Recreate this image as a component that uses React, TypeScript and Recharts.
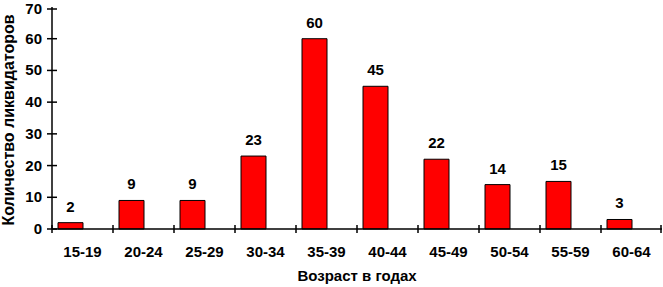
import React from "react";
import { BarChart, Bar, XAxis, YAxis, LabelList, Rectangle } from "recharts";

const ageGroups = ["15-19", "20-24", "25-29", "30-34", "35-39", "40-44", "45-49", "50-54", "55-59", "60-64"];
const liquidators = [2, 9, 9, 23, 60, 45, 22, 14, 15, 3];
const yTicks = [0, 10, 20, 30, 40, 50, 60, 70];

const data = ageGroups.map((age, i) => ({ age, count: liquidators[i] }));

const FONT = "'Liberation Sans', Arial, sans-serif";
const HALF_BAND = 30.5;
// bars sit left of the band centre, like the original Excel chart
const SHIFT = -12;

function XTick(props: any) {
  const { x, y, payload, index } = props;
  return (
    <g>
      <line x1={x - HALF_BAND} x2={x - HALF_BAND} y1={y - 4} y2={y + 4} stroke="#000" strokeWidth={1.5} />
      {index === ageGroups.length - 1 && (
        <line x1={x + HALF_BAND - 1} x2={x + HALF_BAND - 1} y1={y - 4} y2={y + 4} stroke="#000" strokeWidth={1.5} />
      )}
      <text x={x} y={y + 28} textAnchor="middle" fontFamily={FONT} fontWeight="bold" fontSize={15} fill="#000">
        {payload.value}
      </text>
    </g>
  );
}

function YTick(props: any) {
  const { x, y, payload } = props;
  return (
    <g>
      <line x1={x - 5} x2={x + 5} y1={y} y2={y} stroke="#000" strokeWidth={1.5} />
      <text x={x - 10} y={y + 5} textAnchor="end" fontFamily={FONT} fontWeight="bold" fontSize={15} fill="#000">
        {payload.value}
      </text>
    </g>
  );
}

function ShiftedBar(props: any) {
  return <Rectangle {...props} x={props.x + SHIFT} fill="#FF0000" stroke="#000" strokeWidth={1} />;
}

function ValueLabel(props: any) {
  const { x, y, width, value } = props;
  return (
    <text x={x + width / 2 + SHIFT} y={y - 11} textAnchor="middle" fontFamily={FONT} fontWeight="bold" fontSize={15} fill="#000">
      {value}
    </text>
  );
}

export default function App() {
  return (
    <div style={{ position: "absolute", left: 0, top: 0, background: "#fff" }}>
      <BarChart width={663} height={287} data={data} margin={{ top: 7, right: 1, left: 0, bottom: 0 }}>
        <XAxis
          dataKey="age"
          interval={0}
          height={58}
          tickSize={0}
          tickMargin={0}
          tickLine={false}
          tick={<XTick />}
          axisLine={{ stroke: "#000", strokeWidth: 1.5 }}
          label={{
            value: "Возраст в годах",
            position: "insideBottom",
            offset: 6,
            style: { fontFamily: FONT, fontWeight: "bold", fontSize: 15, fill: "#000" },
          }}
        />
        <YAxis
          domain={[0, 70]}
          ticks={yTicks}
          width={52}
          tickSize={0}
          tickMargin={0}
          tickLine={false}
          tick={<YTick />}
          axisLine={{ stroke: "#000", strokeWidth: 1.5 }}
          label={{
            content: () => (
              <text
                x={14}
                y={120}
                transform="rotate(-90, 14, 120)"
                textAnchor="middle"
                fontFamily={FONT}
                fontWeight="bold"
                fontSize={16}
                fill="#000"
              >
                Количество ликвидаторов
              </text>
            ),
          }}
        />
        <Bar dataKey="count" barSize={25} shape={<ShiftedBar />} isAnimationActive={false}>
          <LabelList dataKey="count" content={<ValueLabel />} />
        </Bar>
      </BarChart>
    </div>
  );
}
